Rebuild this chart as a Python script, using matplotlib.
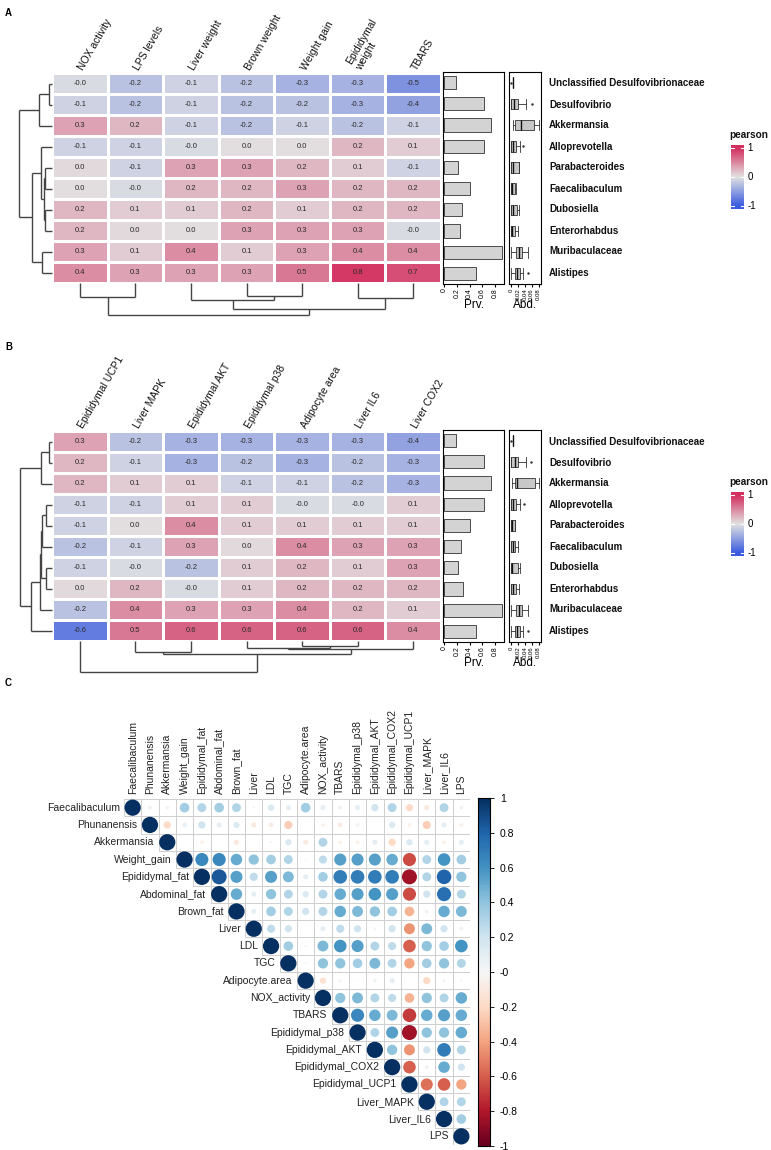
import numpy as np
import matplotlib
matplotlib.use("Agg")
import matplotlib.pyplot as plt
from matplotlib.colors import LinearSegmentedColormap, Normalize
from matplotlib.patches import Circle, Rectangle

plt.rcParams['font.family'] = ['Liberation Sans', 'DejaVu Sans']

W, H = 771, 1150

# ---- data: panels A and B ----
taxa = ["Unclassified Desulfovibrionaceae", "Desulfovibrio", "Akkermansia",
        "Alloprevotella", "Parabacteroides", "Faecalibaculum", "Dubosiella",
        "Enterorhabdus", "Muribaculaceae", "Alistipes"]

cols_a = ["NOX activity", "LPS levels", "Liver weight", "Brown weight",
          "Weight gain", "Epididymal\nweight", "TBARS"]
vals_a = [
    [-0.04, -0.2, -0.1, -0.2, -0.3, -0.3, -0.5],
    [-0.1, -0.2, -0.1, -0.2, -0.2, -0.3, -0.4],
    [0.3, 0.2, -0.1, -0.2, -0.1, -0.2, -0.1],
    [-0.1, -0.1, -0.04, 0.02, 0.02, 0.2, 0.1],
    [0.04, -0.1, 0.3, 0.3, 0.2, 0.1, -0.1],
    [0.02, -0.04, 0.2, 0.2, 0.3, 0.2, 0.2],
    [0.2, 0.1, 0.1, 0.2, 0.1, 0.2, 0.2],
    [0.2, 0.04, 0.02, 0.3, 0.3, 0.3, -0.04],
    [0.3, 0.1, 0.4, 0.1, 0.3, 0.4, 0.4],
    [0.4, 0.3, 0.3, 0.3, 0.5, 0.8, 0.7],
]
cols_b = ["Epididymal UCP1", "Liver MAPK", "Epididymal AKT", "Epididymal p38",
          "Adipocyte area", "Liver IL6", "Liver COX2"]
vals_b = [
    [0.3, -0.2, -0.3, -0.3, -0.3, -0.3, -0.4],
    [0.2, -0.1, -0.3, -0.2, -0.3, -0.2, -0.3],
    [0.2, 0.1, 0.1, -0.1, -0.1, -0.2, -0.3],
    [-0.1, -0.1, 0.1, 0.1, -0.04, -0.04, 0.1],
    [-0.1, 0.02, 0.4, 0.1, 0.1, 0.1, 0.1],
    [-0.2, -0.1, 0.3, 0.04, 0.4, 0.3, 0.3],
    [-0.1, -0.04, -0.2, 0.1, 0.2, 0.1, 0.3],
    [0.04, 0.2, -0.04, 0.1, 0.2, 0.2, 0.2],
    [-0.2, 0.4, 0.3, 0.3, 0.4, 0.2, 0.1],
    [-0.64, 0.5, 0.6, 0.6, 0.6, 0.6, 0.4],
]

# dendrogram merges: (child a, child b, height); leaves are 0..n-1
row_tree_a = [(0, 1, 3), (10, 2, 13), (4, 5, 7), (6, 7, 7), (12, 13, 8),
              (3, 14, 11), (8, 9, 10), (15, 16, 20), (11, 17, 33)]
col_tree_a = [(0, 1, 14), (3, 4, 13), (2, 8, 17), (5, 6, 15), (9, 10, 26), (7, 11, 32)]
row_tree_b = [(0, 1, 3), (10, 2, 11), (3, 4, 6), (12, 5, 10), (6, 7, 6),
              (13, 14, 11), (15, 8, 12), (16, 9, 21), (11, 17, 32)]
col_tree_b = [(1, 2, 11), (4, 5, 5), (3, 8, 7), (9, 6, 8), (7, 10, 13), (0, 11, 31)]

prv_a = [0.18, 0.62, 0.73, 0.62, 0.21, 0.40, 0.28, 0.25, 0.91, 0.50]
prv_b = [0.18, 0.62, 0.73, 0.62, 0.41, 0.26, 0.22, 0.29, 0.91, 0.50]

abd_a_lo = [0.007, 0.0, 0.006, 0.0, 0.0, 0.0, 0.0, 0.0, 0.0, 0.0]
abd_a_q1 = [0.007, 0.0, 0.011, 0.0, 0.001, 0.001, 0.001, 0.001, 0.015, 0.012]
abd_a_med = [0.007, 0.009, 0.028, 0.007, 0.005, 0.004, 0.006, 0.004, 0.022, 0.017]
abd_a_q3 = [0.007, 0.019, 0.066, 0.015, 0.022, 0.012, 0.017, 0.011, 0.031, 0.026]
abd_a_hi = [0.007, 0.043, 0.080, 0.026, 0.024, 0.013, 0.023, 0.020, 0.048, 0.034]
abd_a_out = [[0.0], [0.060], [], [0.036], [], [], [], [], [], [0.050]]

abd_b_lo = [0.007, 0.0, 0.004, 0.0, 0.0, 0.0, 0.0, 0.0, 0.0, 0.0]
abd_b_q1 = [0.007, 0.0, 0.011, 0.0, 0.001, 0.001, 0.001, 0.001, 0.014, 0.012]
abd_b_med = [0.007, 0.010, 0.016, 0.006, 0.003, 0.005, 0.004, 0.005, 0.023, 0.018]
abd_b_q3 = [0.007, 0.019, 0.070, 0.015, 0.012, 0.011, 0.019, 0.015, 0.031, 0.027]
abd_b_hi = [0.007, 0.043, 0.081, 0.027, 0.012, 0.021, 0.025, 0.022, 0.049, 0.034]
abd_b_out = [[0.0], [0.059], [], [0.038], [], [], [], [], [], [0.050]]

# ---- data: panel C ----
vars_c = ["Faecalibaculum", "Phunanensis", "Akkermansia", "Weight_gain",
          "Epididymal_fat", "Abdominal_fat", "Brown_fat", "Liver", "LDL", "TGC",
          "Adipocyte.area", "NOX_activity", "TBARS", "Epididymal_p38",
          "Epididymal_AKT", "Epididymal_COX2", "Epididymal_UCP1", "Liver_MAPK",
          "Liver_IL6", "LPS"]
# upper triangle, row i holds correlations with variables i+1 .. n-1
corr_upper = [
    [0.05, -0.05, 0.35, 0.3, 0.35, 0.3, 0.02, 0.15, 0.1, 0.35, 0.1, 0.05, 0.1, 0.2, 0.3, -0.2, -0.1, 0.3, 0.05],
    [-0.2, 0.08, 0.2, 0.1, 0.15, -0.1, -0.08, -0.25, 0.0, -0.05, -0.08, 0.05, 0.0, 0.15, -0.05, -0.25, 0.1, -0.05],
    [0.0, -0.05, 0.0, -0.1, 0.0, 0.02, 0.15, -0.1, 0.3, -0.05, -0.05, 0.1, -0.2, 0.15, 0.1, -0.05, 0.1],
    [0.65, 0.65, 0.5, 0.4, 0.35, 0.3, 0.02, 0.25, 0.55, 0.55, 0.55, 0.5, -0.65, 0.3, 0.6, 0.35],
    [0.85, 0.55, 0.25, 0.55, 0.45, 0.1, 0.35, 0.7, 0.7, 0.7, 0.7, -0.85, 0.3, 0.8, 0.4],
    [0.5, 0.1, 0.4, 0.3, 0.15, 0.3, 0.5, 0.55, 0.6, 0.55, -0.65, 0.2, 0.75, 0.3],
    [0.1, 0.35, 0.3, 0.2, 0.3, 0.5, 0.45, 0.4, 0.35, -0.35, 0.05, 0.5, 0.45],
    [0.25, 0.2, 0.0, 0.1, 0.25, 0.2, 0.03, 0.2, -0.45, 0.45, 0.2, 0.05],
    [0.35, 0.02, 0.45, 0.6, 0.55, 0.3, 0.25, -0.6, 0.4, 0.35, 0.6],
    [0.02, 0.4, 0.4, 0.35, 0.45, 0.3, -0.4, 0.35, 0.4, 0.3],
    [-0.15, 0.03, 0.01, 0.05, 0.1, 0.0, -0.2, 0.03, 0.02],
    [0.4, 0.45, 0.3, 0.25, -0.35, 0.4, 0.3, 0.5],
    [0.65, 0.5, 0.45, -0.7, 0.5, 0.55, 0.5],
    [0.3, 0.55, -0.85, 0.4, 0.4, 0.5],
    [0.4, -0.45, 0.2, 0.7, 0.3],
    [-0.6, 0.05, 0.5, 0.2],
    [-0.55, -0.6, -0.4],
    [0.3, 0.3],
    [0.35],
]

heat_cmap = LinearSegmentedColormap.from_list(
    "pearson", ["#3A5BDF", "#E2E2E2", "#D32F5E"])
HEAT_LIM = 0.85  # colour saturates near the data range

fig = plt.figure(figsize=(W / 100, H / 100), dpi=100)


def px_axes(x0, y0, x1, y1):
    return fig.add_axes([x0 / W, 1 - y1 / H, (x1 - x0) / W, (y1 - y0) / H])


def draw_dendro(ax, merges, n, rows):
    pos = {i: i + 0.5 for i in range(n)}
    hgt = {i: 0.0 for i in range(n)}
    kw = dict(color="#444444", lw=1, clip_on=False, solid_capstyle="butt")
    for k, (a, b, h) in enumerate(merges):
        for c in (a, b):
            if rows:
                ax.plot([hgt[c], h], [pos[c], pos[c]], **kw)
            else:
                ax.plot([pos[c], pos[c]], [hgt[c], h], **kw)
        if rows:
            ax.plot([h, h], [pos[a], pos[b]], **kw)
        else:
            ax.plot([pos[a], pos[b]], [h, h], **kw)
        pos[n + k] = (pos[a] + pos[b]) / 2
        hgt[n + k] = h
    hmax = max(m[2] for m in merges)
    if rows:
        ax.set_xlim(hmax, 0)
        ax.set_ylim(n, 0)
    else:
        ax.set_xlim(0, n)
        ax.set_ylim(hmax, 0)
    ax.axis("off")


def draw_panel(top, vals, cols, row_tree, col_tree, prv, lo, q1, med, q3, hi, out):
    v = np.array(vals)
    nr, nc = v.shape
    bottom = top + 21 * nr
    x0, x1 = 52, 441

    ax = px_axes(x0, top, x1, bottom)
    ax.pcolormesh(v, cmap=heat_cmap, vmin=-HEAT_LIM, vmax=HEAT_LIM,
                  edgecolors="white", linewidth=1)
    ax.set_xlim(0, nc)
    ax.set_ylim(nr, 0)
    for i in range(nr):
        for j in range(nc):
            ax.text(j + 0.5, i + 0.5, f"{v[i, j]:.1f}", ha="center", va="center",
                    fontsize=5.5, color="#2a2a2a")
    for j, c in enumerate(cols):
        ax.text(j + 0.6, -0.05, c, rotation=60, rotation_mode="anchor",
                ha="left", va="bottom", fontsize=7.5, color="#111111")
    ax.axis("off")

    hr = max(m[2] for m in row_tree)
    draw_dendro(px_axes(x0 - hr, top, x0, bottom), row_tree, nr, True)
    hc = max(m[2] for m in col_tree)
    draw_dendro(px_axes(x0, bottom, x1, bottom + hc), col_tree, nc, False)

    # prevalence bars
    axp = px_axes(443, top - 1, 504, bottom + 1)
    ypos = np.arange(nr) + 0.5
    axp.barh(ypos, prv, height=0.62, color="#D3D3D3", edgecolor="#333333", linewidth=0.6)
    axp.set_ylim(nr, 0)
    axp.set_xlim(-0.02, 0.94)
    axp.set_yticks([])
    axp.set_xticks([0, 0.2, 0.4, 0.6, 0.8])
    axp.set_xticklabels(["0", "0.2", "0.4", "0.6", "0.8"], rotation=90, fontsize=5)
    axp.tick_params(axis="x", length=2, pad=1)
    for s in axp.spines.values():
        s.set_linewidth(0.8)
    fig.text(474 / W, 1 - (bottom + 22) / H, "Prv.", ha="center", va="center", fontsize=8.5)

    # abundance boxes
    axb = px_axes(509, top - 1, 541, bottom + 1)
    stats = [dict(whislo=lo[i], q1=q1[i], med=med[i], q3=q3[i], whishi=hi[i], fliers=out[i])
             for i in range(nr)]
    axb.bxp(stats, positions=ypos, widths=0.5, orientation="horizontal", patch_artist=True,
            boxprops=dict(facecolor="#C8C8C8", edgecolor="#333333", linewidth=0.6),
            medianprops=dict(color="#111111", linewidth=1),
            whiskerprops=dict(color="#333333", linewidth=0.6),
            capprops=dict(color="#333333", linewidth=0.6),
            flierprops=dict(marker=".", markersize=1.5, markerfacecolor="#333333",
                            markeredgecolor="#333333"),
            capwidths=0.5)
    axb.set_ylim(nr, 0)
    axb.set_xlim(-0.006, 0.087)
    axb.set_yticks([])
    axb.set_xticks([0, 0.02, 0.04, 0.06, 0.08])
    axb.set_xticklabels(["0", "0.02", "0.04", "0.06", "0.08"], rotation=90, fontsize=4.3)
    axb.tick_params(axis="x", length=2, pad=1)
    for s in axb.spines.values():
        s.set_linewidth(0.8)
    fig.text(525 / W, 1 - (bottom + 22) / H, "Abd.", ha="center", va="center", fontsize=8.5)

    for i, t in enumerate(taxa):
        fig.text(549 / W, 1 - (top + 21 * (i + 0.5)) / H, t, ha="left", va="center",
                 fontsize=7, fontweight="bold", color="#111111")


def draw_legend(top):
    fig.text(729 / W, 1 - top / H, "pearson", fontsize=7.2, fontweight="bold",
             ha="left", va="bottom", color="#111111")
    cax = px_axes(731, top + 5, 744, top + 69)
    grad = np.linspace(1.1, -1.1, 200)[:, None]
    cax.imshow(grad, cmap=heat_cmap, vmin=-1, vmax=1, aspect="auto",
               extent=[0, 1, -1.1, 1.1])
    cax.set_xlim(0, 1)
    cax.set_ylim(-1.1, 1.1)
    for y in (-1, 0, 1):
        cax.plot([0, 0.22], [y, y], color="white", lw=0.8)
        cax.plot([0.78, 1], [y, y], color="white", lw=0.8)
        cax.text(1.25, y, f"{y}", ha="left", va="center", fontsize=7,
                 transform=cax.transData, clip_on=False)
    cax.axis("off")


# ---- panels A and B ----
fig.text(5 / W, 1 - 13 / H, "A", fontsize=7, fontweight="bold", va="center")
draw_panel(73, vals_a, cols_a, row_tree_a, col_tree_a, prv_a,
           abd_a_lo, abd_a_q1, abd_a_med, abd_a_q3, abd_a_hi, abd_a_out)
draw_legend(140)

fig.text(5 / W, 1 - 347 / H, "B", fontsize=7, fontweight="bold", va="center")
draw_panel(431, vals_b, cols_b, row_tree_b, col_tree_b, prv_b,
           abd_b_lo, abd_b_q1, abd_b_med, abd_b_q3, abd_b_hi, abd_b_out)
draw_legend(487)

# ---- panel C ----
fig.text(5 / W, 1 - 683 / H, "C", fontsize=7, fontweight="bold", va="center")
n = len(vars_c)
R = np.eye(n)
for i, row in enumerate(corr_upper):
    R[i, i + 1:] = row

cmap_c = plt.get_cmap("RdBu")
norm_c = Normalize(-1, 1)
axc = px_axes(124, 799, 470, 1145)
for i in range(n):
    for j in range(i, n):
        axc.add_patch(Rectangle((j, i), 1, 1, fill=False, edgecolor="#CFCFCF", lw=0.7))
        r = R[i, j]
        if abs(r) > 0:
            axc.add_patch(Circle((j + 0.5, i + 0.5), 0.47 * np.sqrt(abs(r)),
                                 color=cmap_c(norm_c(r)), lw=0))
for i, name in enumerate(vars_c):
    axc.text(i - 0.25, i + 0.5, name, ha="right", va="center", fontsize=7.5, color="#222222")
    axc.text(i + 0.5, -0.3, name, ha="center", va="bottom", rotation=90,
             fontsize=7.5, color="#222222")
axc.set_xlim(0, n)
axc.set_ylim(n, 0)
axc.axis("off")

cbc = px_axes(478, 798, 490, 1146)
grad_c = np.linspace(1, -1, 300)[:, None]
cbc.imshow(grad_c, cmap=cmap_c, vmin=-1, vmax=1, aspect="auto", extent=[0, 1, -1, 1])
cbc.set_xlim(0, 1)
cbc.set_ylim(-1, 1)
cbc.set_xticks([])
ticks_c = np.round(np.arange(-1, 1.01, 0.2), 1)
cbc.yaxis.tick_right()
cbc.set_yticks(ticks_c)
cbc.set_yticklabels([f"{t:g}" for t in ticks_c], fontsize=7.5)
cbc.tick_params(axis="y", length=3, width=0.6, pad=4)
for s in cbc.spines.values():
    s.set_linewidth(0.8)

fig.savefig("out.png", dpi=100, facecolor="white")
